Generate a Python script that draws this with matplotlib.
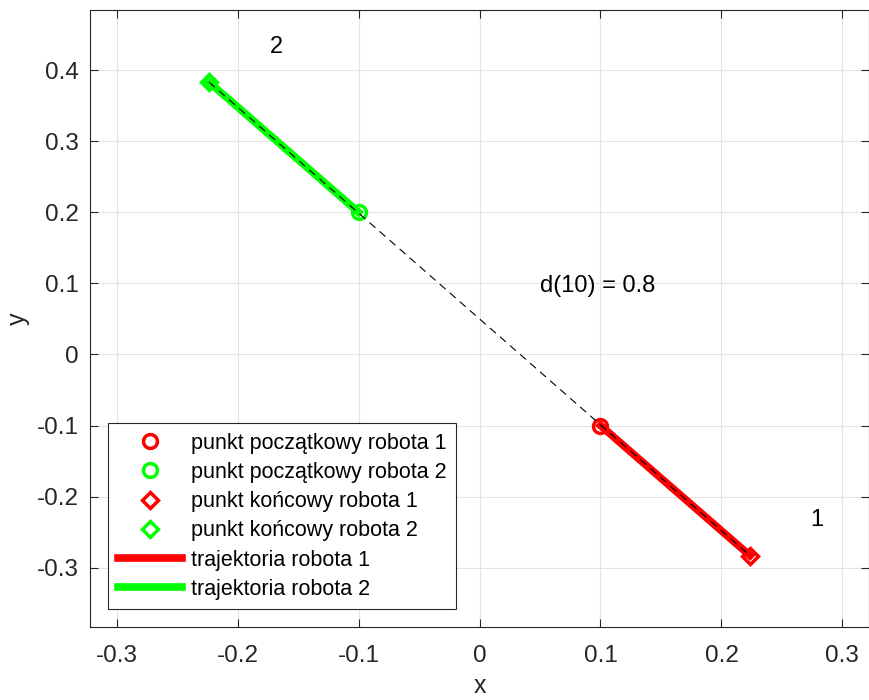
import numpy as np
import matplotlib
matplotlib.use('Agg')
import matplotlib.pyplot as plt

plt.rcParams['font.family'] = ['Liberation Sans', 'DejaVu Sans']

# robot positions
start_1 = [0.1, -0.1]
start_2 = [-0.1, 0.2]
end_1 = [0.2236, -0.283]
end_2 = [-0.2236, 0.383]
label_offset = 0.05
dist_text = 'd(10) = 0.8'
dist_pos = [0.05, 0.096]

legend_labels = ['punkt początkowy robota 1', 'punkt początkowy robota 2',
                 'punkt końcowy robota 1', 'punkt końcowy robota 2',
                 'trajektoria robota 1', 'trajektoria robota 2']

red = '#ff0000'
green = '#00ff00'
dark = '#262626'

fig = plt.figure(figsize=(8.7, 7), dpi=100)
ax = fig.add_axes([0.1034, 0.1047, 0.8955, 0.881])

h1, = ax.plot(start_1[0], start_1[1], 'o', mfc='none', mec=red, ms=10, mew=2.5, zorder=4)
h2, = ax.plot(start_2[0], start_2[1], 'o', mfc='none', mec=green, ms=10, mew=2.5, zorder=4)
h3, = ax.plot(end_1[0], end_1[1], 'D', mfc='none', mec=red, ms=8.5, mew=2.5, zorder=4)
h4, = ax.plot(end_2[0], end_2[1], 'D', mfc='none', mec=green, ms=8.5, mew=2.5, zorder=4)
h5, = ax.plot([start_1[0], end_1[0]], [start_1[1], end_1[1]], '-', color=red, lw=5.5, zorder=3)
h6, = ax.plot([start_2[0], end_2[0]], [start_2[1], end_2[1]], '-', color=green, lw=5.5, zorder=3)
ax.plot([end_2[0], end_1[0]], [end_2[1], end_1[1]], '--', color='black', lw=0.8,
        dashes=(7, 5), zorder=5)

ax.text(end_1[0] + label_offset, end_1[1] + label_offset, '1', fontsize=17, va='center')
ax.text(end_2[0] + label_offset, end_2[1] + label_offset, '2', fontsize=17, va='center')
ax.text(dist_pos[0], dist_pos[1], dist_text, fontsize=17, va='center')

ax.set_xlim(-0.322, 0.322)
ax.set_ylim(-0.383, 0.4844)
ax.set_xticks(np.arange(-0.3, 0.31, 0.1))
ax.set_yticks(np.arange(-0.3, 0.41, 0.1))
ax.set_xticklabels(['-0.3', '-0.2', '-0.1', '0', '0.1', '0.2', '0.3'])
ax.set_yticklabels(['-0.3', '-0.2', '-0.1', '0', '0.1', '0.2', '0.3', '0.4'])
ax.grid(True, color='#e3e3e3', lw=0.8)
ax.set_axisbelow(True)
ax.tick_params(direction='in', length=6, width=0.8, colors=dark, labelsize=17.5,
               top=True, right=True, pad=8)
ax.tick_params(axis='x', pad=13)
for s in ax.spines.values():
    s.set_color(dark)
    s.set_linewidth(0.8)
ax.set_xlabel('x', fontsize=18, color=dark, labelpad=5)
ax.set_ylabel('y', fontsize=18, color=dark, labelpad=5)

leg = ax.legend([h1, h2, h3, h4, h5, h6], legend_labels, loc='lower left',
                bbox_to_anchor=(0.023, 0.028), fontsize=15.5, frameon=True, fancybox=False,
                edgecolor=dark, framealpha=1, handlelength=3.0, handletextpad=0.4,
                labelspacing=0.38, borderpad=0.45, borderaxespad=0)
leg.get_frame().set_linewidth(0.8)

fig.savefig('out.png', dpi=100)
